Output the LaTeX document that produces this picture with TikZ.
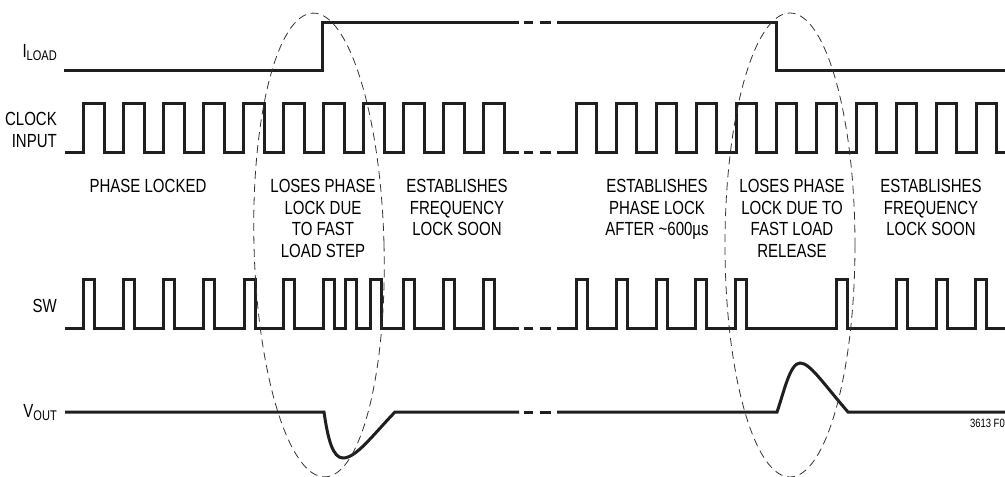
\documentclass[tikz,border=0pt]{standalone}
\usepackage{fontspec}
\setmainfont{Liberation Sans}[FakeStretch=0.79]
\usetikzlibrary{positioning}
\newcommand{\lowsub}[1]{\raisebox{-3.5pt}{\fontsize{14}{14}\selectfont #1}}

\begin{document}
\begin{tikzpicture}[x=1pt, y=-1pt,
  wave/.style={line width=3pt, line join=miter, color=black!88},
  ring/.style={line width=0.8pt, dash pattern=on 8pt off 5pt, color=black!80},
  sig/.style={inner sep=0pt, font=\fontsize{19}{21.7}\selectfont, align=right},
  note/.style={anchor=north, inner sep=0pt, font=\fontsize{19}{21.7}\selectfont, align=center},
  tag/.style={anchor=east, inner sep=0pt, font=\fontsize{12}{12}\selectfont}
]
  \useasboundingbox (0,0) rectangle (1005,477);

  \node[sig, anchor=base east] (iload) at (57,57) {I\lowsub{LOAD}};
  \node[sig, anchor=east]      (clk)   at (57,130) {CLOCK\\INPUT};
  \node[sig, anchor=base east] (sw)    at (57,312) {SW};
  \node[sig, anchor=base east] (vout)  at (57,417) {V\lowsub{OUT}};

  \draw[wave] (64,70) -- (322,70) -- (322,22) -- (519,22);
  \draw[wave] (557,22) -- (776,22) -- (776,70) -- (1005,70);

  \draw[wave] (65,152) foreach \r in {83,123,...,483} { -- (\r,152) -- (\r,103) -- (\r+21,103) -- (\r+21,152) } -- (519,152);
  \draw[wave] (557,152) foreach \r in {576,616,...,976} { -- (\r,152) -- (\r,103) -- (\r+20,103) -- (\r+20,152) } -- (1005,152);

  \draw[wave] (65,328) foreach \r in {83,123,163,203,244,283,323,345,370,403,443,483} { -- (\r,328) -- (\r,279) -- (\r+11,279) -- (\r+11,328) } -- (519,328);
  \draw[wave] (557,328) foreach \r in {576,616,656,695,735,836,896,936,975} { -- (\r,328) -- (\r,279) -- (\r+11,279) -- (\r+11,328) } -- (1005,328);

  \draw[wave] (65,412) -- (324,412) .. controls (328,440) and (333,458) .. (343,458)
              .. controls (356,458) and (372,436) .. (395,412) -- (519,412);
  \draw[wave] (557,412) -- (777,412) .. controls (784,392) and (790,363) .. (800,363)
              .. controls (810,363) and (822,382) .. (848,412) -- (1005,412);

  \foreach \y in {22,152,328,412}
    \draw[wave] (524,\y) -- (533,\y) (540,\y) -- (551,\y);

  \draw[ring, rotate around={1.5:(319,245)}] (319,245) ellipse (65 and 232);
  \draw[ring] (790,245) ellipse (65 and 232);

  \node[note] (locked) at (148,179) {PHASE LOCKED};
  \node[note] (loss1)  at (323,179) {LOSES PHASE\\LOCK DUE\\TO FAST\\LOAD STEP};
  \node[note] (freq1)  at (457,179) {ESTABLISHES\\FREQUENCY\\LOCK SOON};
  \node[note] (phase2) at (657,179) {ESTABLISHES\\PHASE LOCK\\AFTER \textasciitilde600µs};
  \node[note] (loss2)  at (792,179) {LOSES PHASE\\LOCK DUE TO\\FAST LOAD\\RELEASE};
  \node[note] (freq2)  at (931,179) {ESTABLISHES\\FREQUENCY\\LOCK SOON};

  \node[tag] (fig) at (1005,423) {3613 F0};
\end{tikzpicture}
\end{document}
